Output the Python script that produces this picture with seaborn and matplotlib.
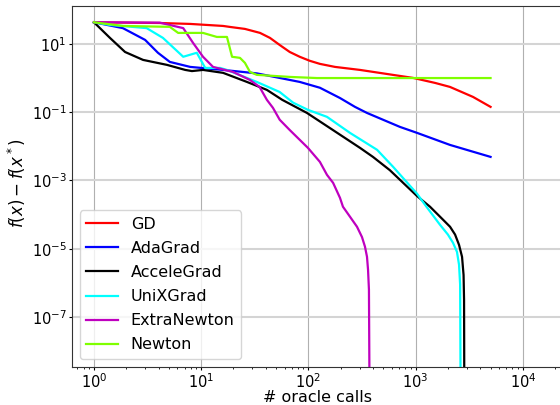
import matplotlib
matplotlib.use("Agg")
import matplotlib.pyplot as plt
from matplotlib.ticker import FixedLocator, LogFormatterSciNotation, NullLocator, LogLocator
import numpy as np
import pandas as pd
import seaborn as sns

methods = ["GD", "AdaGrad", "AcceleGrad", "UniXGrad", "ExtraNewton", "Newton"]
colors = ["red", "blue", "black", "cyan", "m", "chartreuse"]

gd_x = [1, 4.1, 7.9, 16, 18.6, 25.6, 35.4, 43.8, 54, 67, 83, 103, 128, 177, 303, 946,
        1518, 2090, 3430, 5000]
gd_y = [43, 41, 38.5, 33.6, 31.4, 27.5, 21, 15, 9.3, 5.8, 4.2, 3.2, 2.6, 2.12, 1.73, 1.01,
        0.72, 0.55, 0.28, 0.143]

ada_x = [1, 1.86, 3.0, 3.95, 5.1, 7.9, 16, 33, 83, 128, 197, 272, 352, 497, 715, 1030,
         2090, 5000]
ada_y = [43, 29, 13.1, 5.5, 2.97, 2.12, 1.73, 1.37, 0.77, 0.52, 0.26, 0.143, 0.095, 0.060,
         0.037, 0.0248, 0.011, 0.0049]

acc_x = [1, 1.41, 1.95, 2.87, 4.8, 7.1, 8.2, 10.4, 16, 26.7, 41, 57, 97, 303, 400, 575,
         1030, 1362, 1800, 2095, 2333, 2540, 2710, 2800, 2830, 2860]
acc_y = [43, 15, 5.8, 3.4, 2.43, 1.73, 1.6, 1.73, 1.42, 0.77, 0.45, 0.23, 0.095, 0.009,
         0.0049, 0.0020, 3.5e-4, 1.7e-4, 7.1e-5, 4.4e-5, 2.6e-5, 1.3e-5, 5.8e-6, 1.7e-6,
         3.2e-7, 1e-12]

unix_x = [1, 1.41, 3.1, 4.4, 6.8, 9.1, 10.9, 15, 17.4, 33, 54, 72, 99, 149, 244, 437,
          617, 1030, 1280, 1690, 2000, 2230, 2430, 2540, 2600, 2650]
unix_y = [43, 36, 29, 15, 4.2, 5.5, 1.98, 1.98, 1.73, 0.77, 0.39, 0.19, 0.117, 0.073,
          0.0248, 0.0079, 0.0025, 4.1e-4, 1.6e-4, 5.0e-5, 2.6e-5, 1.5e-5, 8.1e-6, 3.4e-6,
          9e-7, 1e-12]

en_x = [1, 4.1, 6.8, 8.4, 10.4, 12.9, 19.8, 28.5, 35, 41, 46.7, 54, 67, 83, 99, 128, 149,
        170, 197, 210, 244, 284, 316, 337, 352, 360, 367, 376]
en_y = [43, 42, 29, 10.7, 4.2, 2.12, 1.51, 0.88, 0.55, 0.23, 0.134, 0.06, 0.030, 0.0155,
        0.009, 0.0035, 0.00146, 8.5e-4, 3.1e-4, 1.7e-4, 8.7e-5, 4.4e-5, 2.2e-5, 1.15e-5,
        5.8e-6, 2.4e-6, 6.3e-7, 1e-12]

nt_x = [1, 1.86, 5.1, 6.1, 10.4, 14, 17.4, 19.4, 23, 25.6, 28.5, 33, 67, 120, 5000]
nt_y = [43, 33.6, 31.6, 21, 21, 16, 16, 4.2, 3.9, 2.78, 1.51, 1.24, 1.08, 1.0, 1.0]

series_x = [gd_x, ada_x, acc_x, unix_x, en_x, nt_x]
series_y = [gd_y, ada_y, acc_y, unix_y, en_y, nt_y]

rows = []
for name, xs, ys in zip(methods, series_x, series_y):
    for i, (xv, yv) in enumerate(zip(xs, ys)):
        rows.append({"method": name, "calls": xv, "gap": yv, "order": i})
df = pd.DataFrame(rows)

plt.rcParams["font.family"] = ["DejaVu Sans"]
fig = plt.figure(figsize=(5.6, 4.05), dpi=100)
W, H = 560, 405
left, right, top, bottom = 71.7, 571.2, 6.0, 366.7
ax = fig.add_axes([left / W, 1 - bottom / H, (right - left) / W, (bottom - top) / H])

sns.lineplot(data=df, x="calls", y="gap", hue="method", hue_order=methods,
             palette=dict(zip(methods, colors)), estimator=None, sort=False,
             units="method", linewidth=1.6, ax=ax)

ax.set_xscale("log")
ax.set_yscale("log")
ax.set_xlim(0.62, 28250)
ax.set_ylim(3.5e-9, 129)

ax.xaxis.set_major_locator(FixedLocator([1, 10, 100, 1000, 10000]))
ax.xaxis.set_major_formatter(LogFormatterSciNotation())
ax.xaxis.set_minor_locator(LogLocator(base=10, subs=np.arange(2, 10)))
ax.yaxis.set_major_locator(FixedLocator([1e1, 1e-1, 1e-3, 1e-5, 1e-7]))
ax.yaxis.set_major_formatter(LogFormatterSciNotation())
ax.yaxis.set_minor_locator(NullLocator())

ax.grid(axis="x", which="major", color="#b0b0b0", linewidth=0.8)
ax.grid(axis="y", which="major", color="#d4d4d4", linewidth=1.5)
ax.set_axisbelow(True)

ax.tick_params(axis="both", which="major", labelsize=10.5, length=2.5, width=0.8, pad=1.2)
ax.tick_params(axis="x", which="minor", length=1.6, width=0.6)
for s in ax.spines.values():
    s.set_color("#333333")

ax.set_xlabel("# oracle calls", fontsize=11.5)
ax.set_ylabel(r"$f(x) - f(x^*)$", fontsize=12)
ax.xaxis.label.set_va("baseline")
ax.xaxis.set_label_coords(0.493, -0.0965)
ax.yaxis.set_label_coords(-0.0875, 0.508)

handles, labels = ax.get_legend_handles_labels()
ax.legend(handles, labels, loc="lower left", fontsize=11.5, labelspacing=0.57,
          handlelength=2.0, framealpha=0.8)

fig.savefig("out.png", dpi=100)
